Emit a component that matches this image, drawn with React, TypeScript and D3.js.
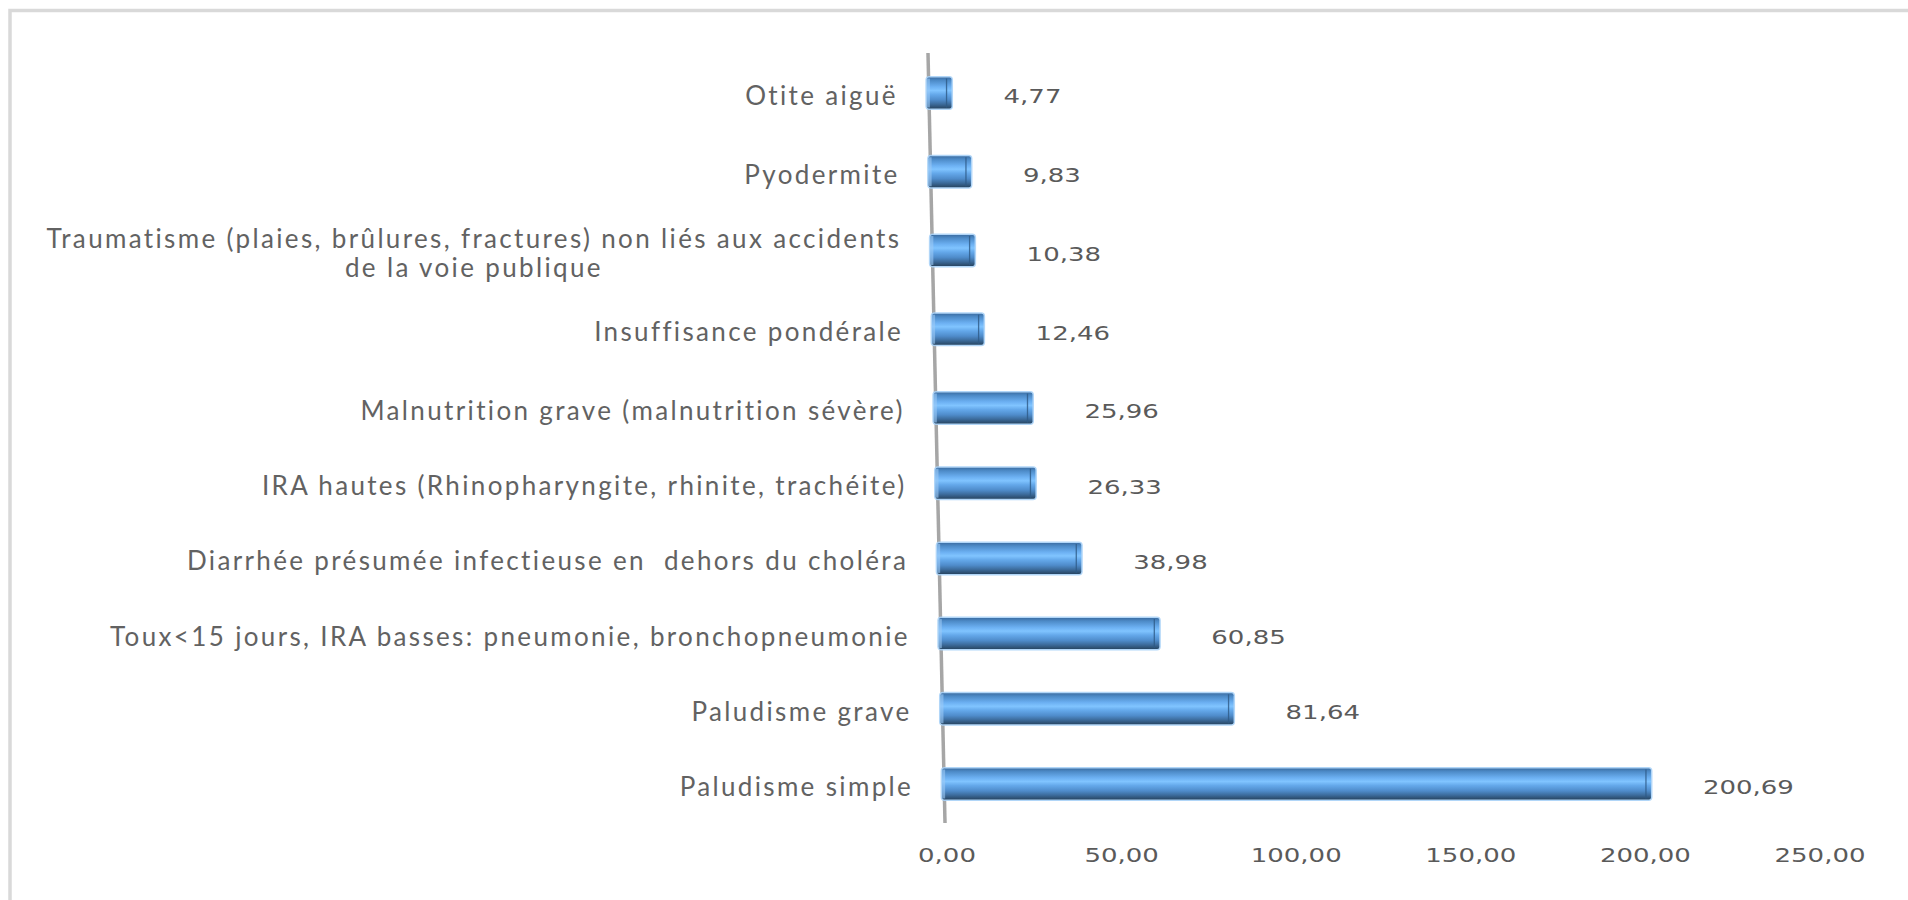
import React, { useEffect, useRef } from "react";
import * as d3 from "d3";

const categories = [
  "Otite aiguë",
  "Pyodermite",
  "Traumatisme (plaies, brûlures, fractures) non liés aux accidents de la voie publique",
  "Insuffisance pondérale",
  "Malnutrition grave (malnutrition sévère)",
  "IRA hautes (Rhinopharyngite, rhinite, trachéite)",
  "Diarrhée présumée infectieuse en  dehors du choléra",
  "Toux<15 jours, IRA basses: pneumonie, bronchopneumonie",
  "Paludisme grave",
  "Paludisme simple",
];
const values = [4.77, 9.83, 10.38, 12.46, 25.96, 26.33, 38.98, 60.85, 81.64, 200.69];
const xTicks = [0, 50, 100, 150, 200, 250];
const xDomain = [0, 250];

const W = 1908;
const H = 900;

const locale = d3.formatLocale({ decimal: ",", thousands: " ", grouping: [3], currency: ["", "€"] });
const fmt = locale.format(".2f");

export default function App() {
  const ref = useRef<SVGSVGElement>(null);

  useEffect(() => {
    const svg = d3.select(ref.current);
    svg.selectAll("*").remove();

    const defs = svg.append("defs");
    const grad = defs
      .append("linearGradient")
      .attr("id", "barGrad")
      .attr("x1", 0)
      .attr("y1", 0)
      .attr("x2", 0)
      .attr("y2", 1);
    const stops: [number, string][] = [
      [0, "#3d70a6"],
      [0.1, "#4d8bc8"],
      [0.3, "#6cb0f2"],
      [0.42, "#80c4ff"],
      [0.55, "#64a8ea"],
      [0.72, "#4f8ccb"],
      [0.86, "#3c6b9b"],
      [1, "#284663"],
    ];
    stops.forEach(([o, c]) => grad.append("stop").attr("offset", o).attr("stop-color", c));

    // chart border
    svg
      .append("rect")
      .attr("x", 10)
      .attr("y", 10.5)
      .attr("width", W + 20)
      .attr("height", H + 20)
      .attr("fill", "#ffffff")
      .attr("stroke", "#d9d9d9")
      .attr("stroke-width", 3.5);

    const n = categories.length;
    const yPos = d3.scaleLinear().domain([0, 4, n - 1]).range([93, 408, 784]);
    const axisTop = 53;
    const axisBottom = 823;
    const axisX = d3.scaleLinear().domain([axisTop, axisBottom]).range([928, 945]);
    const x = d3.scaleLinear().domain(xDomain).range([0, 873]);
    const barH = 31;

    // vertical (category) axis line, slanted by the 3D perspective
    svg
      .append("line")
      .attr("x1", axisX(axisTop))
      .attr("y1", axisTop)
      .attr("x2", axisX(axisBottom))
      .attr("y2", axisBottom)
      .attr("stroke", "#a6a6a6")
      .attr("stroke-width", 3.5);

    // bars
    const bars = svg.append("g");
    values.forEach((v, i) => {
      const cy = yPos(i);
      const ax = axisX(cy);
      const left = ax - 2;
      const right = ax + 6 + x(v);
      const gb = bars.append("g");
      gb.append("rect")
        .attr("x", left - 1.5)
        .attr("y", cy - barH / 2 - 1.5)
        .attr("width", right - left + 3)
        .attr("height", barH + 3)
        .attr("rx", 4)
        .attr("fill", "#a9d1f7")
        .attr("opacity", 0.9);
      gb.append("rect")
        .attr("x", left)
        .attr("y", cy - barH / 2)
        .attr("width", right - left)
        .attr("height", barH)
        .attr("rx", 2)
        .attr("fill", "url(#barGrad)");
      gb.append("rect")
        .attr("x", left)
        .attr("y", cy - barH / 2 + 1)
        .attr("width", 3)
        .attr("height", barH - 2)
        .attr("fill", "#9ccaf5")
        .attr("opacity", 0.6);
      gb.append("line")
        .attr("x1", right - 5)
        .attr("x2", right - 5)
        .attr("y1", cy - barH / 2 + 1)
        .attr("y2", cy + barH / 2 - 1)
        .attr("stroke", "#2e5a86")
        .attr("stroke-width", 1.3)
        .attr("opacity", 0.8);
    });

    // category labels
    const catFont = { family: "Lato", size: 26, spacing: 2.35 };
    const measurer = svg
      .append("text")
      .attr("font-family", catFont.family)
      .attr("font-size", catFont.size)
      .attr("letter-spacing", catFont.spacing)
      .style("white-space", "pre")
      .attr("visibility", "hidden");
    const measure = (s: string) => {
      measurer.text(s);
      return (measurer.node() as SVGTextElement).getComputedTextLength();
    };
    const maxLabelW = 880;
    const wrap = (s: string) => {
      if (measure(s) <= maxLabelW) return [s];
      const words = s.split(" ");
      const lines: string[] = [];
      let cur = "";
      words.forEach((w) => {
        const t = cur ? cur + " " + w : w;
        if (measure(t) > maxLabelW && cur) {
          lines.push(cur);
          cur = w;
        } else cur = t;
      });
      if (cur) lines.push(cur);
      return lines;
    };

    const labels = svg.append("g");
    categories.forEach((c, i) => {
      const cy = yPos(i);
      const re = axisX(cy) - 31;
      const lines = wrap(c);
      const widths = lines.map(measure);
      const maxW = d3.max(widths) || 0;
      const lh = 29;
      lines.forEach((ln, k) => {
        const ty = cy + 2 + (k - (lines.length - 1) / 2) * lh;
        labels
          .append("text")
          .attr("x", lines.length > 1 ? re - maxW / 2 : re)
          .attr("y", ty)
          .attr("text-anchor", lines.length > 1 ? "middle" : "end")
          .attr("dominant-baseline", "central")
          .attr("font-family", catFont.family)
          .attr("font-size", catFont.size)
          .attr("letter-spacing", catFont.spacing)
          .style("white-space", "pre")
          .attr("fill", "#626262")
          .text(ln);
      });
    });
    measurer.remove();

    // value labels
    const valFont = { family: "DejaVu Sans", size: 20, sx: 1.3 };
    const vals = svg.append("g");
    values.forEach((v, i) => {
      const cy = yPos(i);
      const right = axisX(cy) + 6 + x(v);
      vals
        .append("text")
        .attr("transform", `translate(${right + 52},${cy + 3}) scale(${valFont.sx},1)`)
        .attr("text-anchor", "start")
        .attr("dominant-baseline", "central")
        .attr("font-family", valFont.family)
        .attr("font-size", valFont.size)
        .attr("fill", "#5a5a5a")
        .text(fmt(v));
    });

    // horizontal value-axis tick labels
    const ticks = svg.append("g");
    const x0 = axisX(axisBottom) + 2;
    xTicks.forEach((t) => {
      ticks
        .append("text")
        .attr("transform", `translate(${x0 + x(t)},855) scale(${valFont.sx},1)`)
        .attr("text-anchor", "middle")
        .attr("dominant-baseline", "central")
        .attr("font-family", valFont.family)
        .attr("font-size", valFont.size)
        .attr("fill", "#5a5a5a")
        .text(fmt(t));
    });
  }, []);

  return (
    <svg
      ref={ref}
      width={W}
      height={H}
      style={{ position: "absolute", left: 0, top: 0, display: "block" }}
    />
  );
}
